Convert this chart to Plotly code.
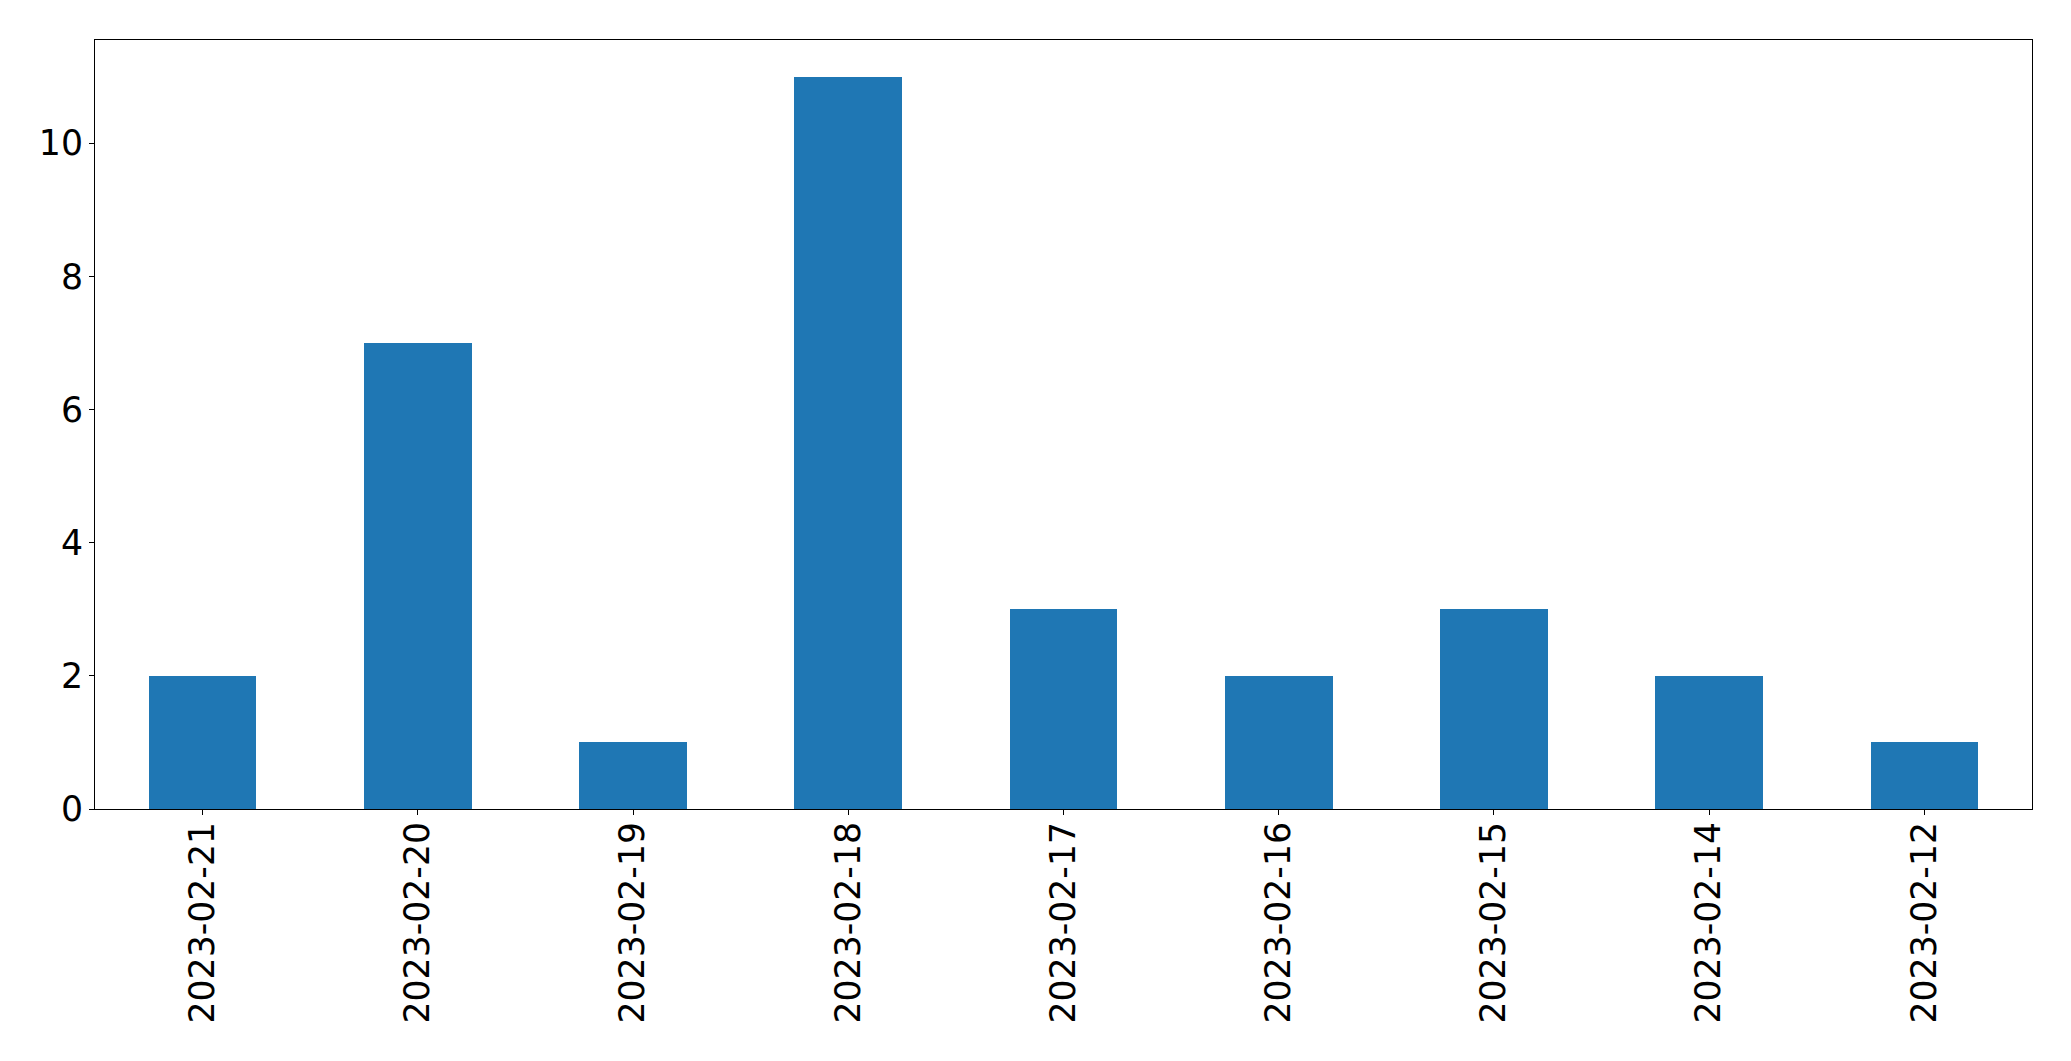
import plotly.graph_objects as go

dates = ["2023-02-21", "2023-02-20", "2023-02-19", "2023-02-18", "2023-02-17",
         "2023-02-16", "2023-02-15", "2023-02-14", "2023-02-12"]
counts = [2, 7, 1, 11, 3, 2, 3, 2, 1]
ytick_vals = [0, 2, 4, 6, 8, 10]

fig = go.Figure(go.Bar(
    x=list(range(len(dates))), y=counts, width=0.5,
    marker=dict(color="#1f77b4", line=dict(width=0)),
))

font = dict(family="DejaVu Sans", size=34.7, color="black")
fig.update_layout(
    width=2055, height=1045,
    margin=dict(l=86.5, r=31.3, t=31.5, b=244, autoexpand=False),
    paper_bgcolor="white", plot_bgcolor="white",
    showlegend=False, bargap=0,
    font=font,
)
fig.update_xaxes(
    range=[-0.5, len(dates) - 0.5],
    tickmode="array", tickvals=list(range(len(dates))), ticktext=dates,
    tickangle=-90, ticks="outside", ticklen=5, tickwidth=1.2, tickcolor="black",
    showline=True, linecolor="black", linewidth=1.2, mirror=True,
    showgrid=False, zeroline=False, tickfont=font, ticklabelstandoff=-7,
)
fig.update_yaxes(
    range=[0, 11.55],
    tickmode="array", tickvals=ytick_vals,
    ticks="outside", ticklen=5, tickwidth=1.2, tickcolor="black",
    showline=True, linecolor="black", linewidth=1.2, mirror=True,
    showgrid=False, zeroline=False, tickfont=font, ticklabelstandoff=-1,
)
fig.write_html("out.html")
